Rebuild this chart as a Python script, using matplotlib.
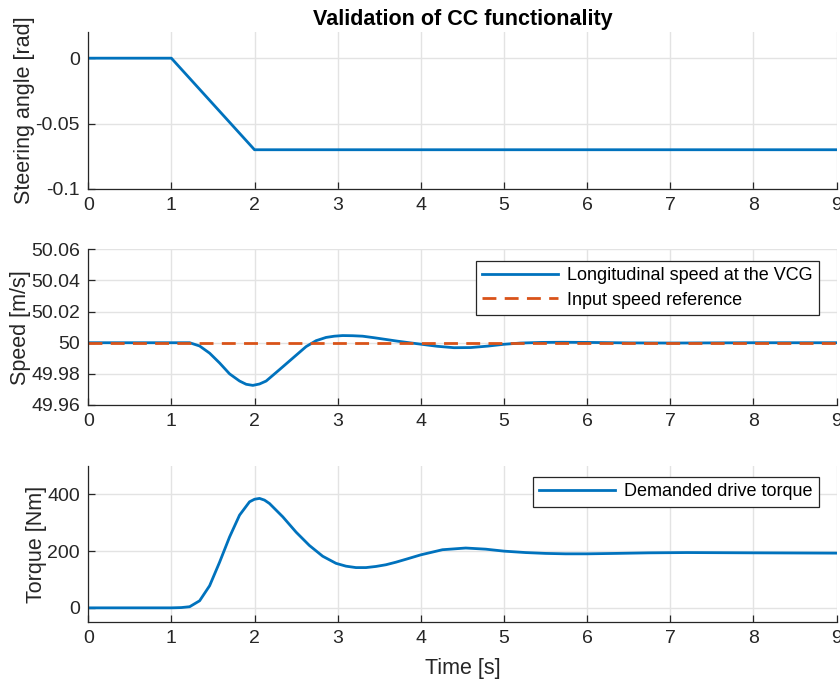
import matplotlib
matplotlib.use("Agg")
import matplotlib.pyplot as plt

plt.rcParams['font.family'] = ['Liberation Sans', 'DejaVu Sans']

# Steering angle input
t_steer = [0, 1, 2, 9]
steer = [0, 0, -0.07, -0.07]

# Longitudinal speed at the VCG
t_speed = [0, 0.5, 1.0, 1.22, 1.34, 1.46, 1.58, 1.70, 1.82, 1.90, 1.98, 2.06, 2.14,
           2.30, 2.46, 2.62, 2.74, 2.86, 2.96, 3.06, 3.18, 3.30, 3.44, 3.58, 3.72,
           3.86, 3.98, 4.2, 4.4, 4.6, 4.8, 5.0, 5.2, 5.45, 5.7, 6.0, 6.5, 7.0, 8.0, 9.0]
speed = [50.0, 50.0, 50.0, 50.0, 49.9979, 49.9933, 49.9870, 49.9800, 49.9754, 49.9733,
         49.9726, 49.9735, 49.9754, 49.9827, 49.9901, 49.9975, 50.0013, 50.0034,
         50.0042, 50.0046, 50.0045, 50.0042, 50.0032, 50.0021, 50.0010, 50.0, 49.9992,
         49.9977, 49.9968, 49.9969, 49.9978, 49.9990, 49.9998, 50.0002, 50.0003,
         50.0002, 49.9999, 49.9998, 50.0, 50.0]

# Input speed reference
t_ref = [0, 9]
speed_ref = [50.0, 50.0]

# Demanded drive torque
t_torque = [0, 0.5, 1.0, 1.12, 1.22, 1.34, 1.46, 1.58, 1.70, 1.82, 1.94, 2.0, 2.06,
            2.12, 2.18, 2.34, 2.50, 2.66, 2.82, 2.98, 3.10, 3.22, 3.34, 3.46, 3.58,
            3.70, 3.84, 4.0, 4.26, 4.54, 4.78, 5.0, 5.26, 5.5, 5.74, 6.0, 6.34, 6.74,
            7.2, 8.0, 9.0]
torque = [0, 0, 0, 1, 4, 25, 78, 161, 250, 327, 374, 383, 386, 380, 368, 321, 267,
          220, 182, 157, 147, 142, 142, 146, 152, 161, 173, 187, 205, 211, 207, 200,
          195, 192, 190.5, 190.5, 192, 194, 195, 194, 193]

blue = '#0072BD'
orange = '#D95319'
dark = '#262626'
grid_c = '#E3E3E3'

fig = plt.figure(figsize=(8.4, 6.84), dpi=100)
ax1 = fig.add_axes([0.105, 0.7237, 0.891, 0.2295])
ax2 = fig.add_axes([0.105, 0.4079, 0.891, 0.2276])
ax3 = fig.add_axes([0.105, 0.0906, 0.891, 0.2280])


def style(ax):
    ax.set_xlim(0, 9)
    ax.set_xticks(range(0, 10))
    ax.spines['top'].set_visible(False)
    ax.spines['right'].set_visible(False)
    for s in ('left', 'bottom'):
        ax.spines[s].set_color(dark)
        ax.spines[s].set_linewidth(0.9)
    ax.tick_params(direction='in', length=5, width=0.9, colors=dark,
                   labelsize=14, pad=6)
    ax.grid(True, color=grid_c, linewidth=1.0)
    ax.set_axisbelow(True)


def add_legend(ax, anchor, spacing):
    leg = ax.legend(loc='upper right', bbox_to_anchor=anchor, borderaxespad=0,
                    fontsize=13, fancybox=False, edgecolor=dark, framealpha=1,
                    handlelength=4.2, borderpad=0.35, labelspacing=spacing,
                    handletextpad=0.5)
    leg.get_frame().set_linewidth(0.9)


ax1.plot(t_steer, steer, color=blue, lw=2)
style(ax1)
ax1.set_ylim(-0.1, 0.02)
ax1.set_yticks([-0.1, -0.05, 0])
ax1.set_yticklabels(['-0.1', '-0.05', '0'])
ax1.set_ylabel('Steering angle [rad]', fontsize=15.5, color=dark, labelpad=0)
ax1.set_title('Validation of CC functionality', fontsize=15.5, fontweight='bold', pad=5)

ax2.plot(t_speed, speed, color=blue, lw=2, label='Longitudinal speed at the VCG')
ax2.plot(t_ref, speed_ref, color=orange, lw=2, ls=(0, (5, 3)), label='Input speed reference')
style(ax2)
ax2.set_ylim(49.96, 50.06)
ax2.set_yticks([49.96, 49.98, 50.0, 50.02, 50.04, 50.06])
ax2.set_yticklabels(['49.96', '49.98', '50', '50.02', '50.04', '50.06'])
ax2.set_ylabel('Speed [m/s]', fontsize=15.5, color=dark, labelpad=0)
add_legend(ax2, (0.976, 0.925), 0.4)

ax3.plot(t_torque, torque, color=blue, lw=2, label='Demanded drive torque')
style(ax3)
ax3.set_ylim(-50, 500)
ax3.set_yticks([0, 200, 400])
ax3.set_ylabel('Torque [Nm]', fontsize=15.5, color=dark, labelpad=0)
ax3.set_xlabel('Time [s]', fontsize=15.5, color=dark, labelpad=8)
add_legend(ax3, (0.976, 0.929), 0.25)

fig.savefig('out.png', dpi=100)
